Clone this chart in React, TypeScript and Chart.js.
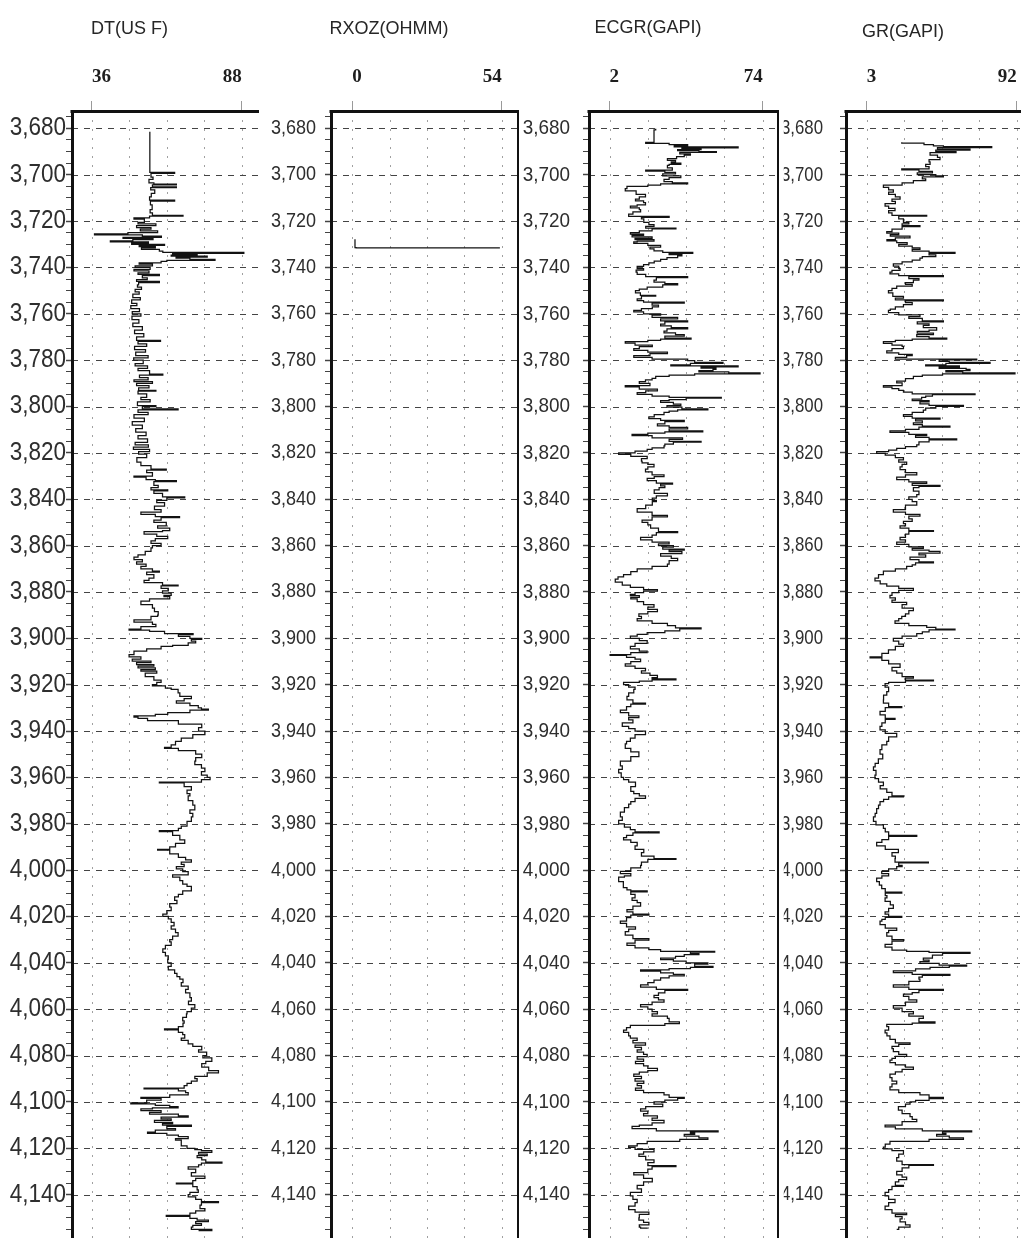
import React, { useEffect, useRef } from "react";
import { Chart, registerables } from "chart.js";

Chart.register(...registerables);

// ---------- data ----------
const DEPTH_LABELS = [3680, 3700, 3720, 3740, 3760, 3780, 3800, 3820, 3840, 3860, 3880, 3900, 3920, 3940, 3960, 3980, 4000, 4020, 4040, 4060, 4080, 4100, 4120, 4140];
const DEPTH_MINOR_STEP = 5;
const DEPTH_MIN = 3672.5;
const DEPTH_MAX = 4168.2;

const TRACK_TITLES = ["DT(US F)", "RXOZ(OHMM)", "ECGR(GAPI)", "GR(GAPI)"];
const TRACK_TICKS = [
  [36, 49, 62, 75, 88],
  [0, 13.5, 27, 40.5, 54],
  [2, 20, 38, 56, 74],
  [3, 25.25, 47.5, 69.75, 92],
];
const TRACK_RANGES = [
  [29.1, 93.96],
  [-7.66, 60.2],
  [-7.63, 81.6],
  [-9.3, 101.1],
];

// [depth, value]
const DT_LOG: number[][] = [
  [3681.5,56.1],[3698.5,56.1],[3699,64.7],[3699.4,56.5],[3701,57.2],[3702,55.8],[3703.5,57.5],[3704,65.3],[3704.4,57],[3705.2,65.3],[3705.6,56.4],[3706.5,57.8],[3708,56.6],[3709.5,56.0],[3711,64.7],[3711.4,56.3],[3713,56.9],[3715,56.2],[3716.5,57.0],[3717.5,67.6],[3717.9,56],[3718.6,50.6],[3719.2,54.2],[3720.5,52.0],[3721.2,58.2],[3722,51.5],[3722.8,56.5],[3723.5,52.8],[3724.2,58.8],[3725,48.5],[3725.5,36.9],[3725.9,53.5],[3726.5,60.1],[3727,46.8],[3727.5,57.2],[3728,50.2],[3728.5,42.4],[3729,55.6],[3729.5,49.8],[3730,61.2],[3730.5,52.4],[3731,58.0],[3731.6,53.2],[3732.2,59.4],[3733,60.6],[3733.5,88.7],[3733.9,64.0],[3734.3,72.5],[3734.7,63.5],[3735.1,76.0],[3735.5,65.2],[3736,70.0],[3736.5,78.7],[3736.9,62.0],[3737.4,60.0],[3738,52.4],[3738.6,57.0],[3739.3,51.0],[3740,56.2],[3740.8,50.6],[3741.5,55.8],[3742.3,52.0],[3743,59.4],[3743.5,53.5],[3744.5,55.2],[3745.3,51.5],[3746,59.4],[3746.5,52.2],[3747.5,51.8],[3748.5,53.2],[3749.5,51.0],[3750.5,52.4],[3751.5,50.2],[3753,52.8],[3754,49.8],[3755.5,51.6],[3756.5,49.5],[3757.8,52.5],[3759,50.0],[3760,53.0],[3761,49.9],[3762.5,52.3],[3764,50.2],[3765.5,53.5],[3767,50.8],[3768.5,54.0],[3770,51.5],[3771.5,59.8],[3771.9,52.0],[3773,55.0],[3774,50.8],[3775.5,54.6],[3776.5,51.2],[3778,55.5],[3779,50.5],[3780,53.8],[3781.5,51.0],[3782.5,55.3],[3783.5,52.0],[3784.5,56.0],[3786,60.6],[3786.4,52.5],[3787.5,55.5],[3788.5,50.6],[3789.2,57.0],[3790,51.5],[3791,55.8],[3792,52.2],[3793,58.2],[3793.4,52.0],[3794.5,55.0],[3796,53.0],[3797,56.2],[3798,51.8],[3799.6,58.2],[3800,53.5],[3801,65.9],[3801.4,52.0],[3802.5,55.5],[3803.5,50.6],[3805,54.2],[3806.5,50.0],[3808,53.5],[3809.5,51.2],[3811,54.8],[3812.5,52.0],[3814,55.3],[3815.5,51.0],[3816.5,55.6],[3817.5,50.4],[3818.5,56.0],[3819.5,52.2],[3820.5,55.0],[3822,51.6],[3824,53.0],[3825.5,56.5],[3827,61.8],[3827.4,55.0],[3828.5,57.0],[3830,50.6],[3830.5,54.8],[3831.5,58.0],[3832,65.3],[3832.4,57.5],[3834,59.0],[3835,56.5],[3836,62.3],[3836.4,57.5],[3837.5,60.5],[3839,68.2],[3839.4,62.0],[3840.5,58.5],[3841.5,61.2],[3843,57.7],[3844.5,60.0],[3845.5,53.0],[3846.5,58.0],[3847.5,66.4],[3847.9,60.0],[3849,57.5],[3850,61.8],[3851.5,58.8],[3852.5,63.0],[3853.5,60.5],[3854,54.1],[3855,58.5],[3856,62.3],[3857,58.0],[3858,56.5],[3859,60.0],[3860,57.0],[3861,56.5],[3862.5,54.5],[3864,52.0],[3865,50.6],[3866,53.5],[3867,51.5],[3868,54.8],[3869,53.0],[3870,57.0],[3871,59.4],[3871.4,55.0],[3872.5,57.5],[3874,55.8],[3875,54.1],[3876,60.5],[3877,65.9],[3877.4,60.0],[3878.5,62.5],[3879.5,60.5],[3880.5,63.5],[3881.5,61.0],[3882,63.0],[3883,56.0],[3884,53.0],[3885.5,57.0],[3887,57.7],[3888.5,59.0],[3890,58.8],[3890.5,56.5],[3892,50.6],[3893,57.0],[3894,58.2],[3895,53.0],[3896,48.9],[3896.5,56.0],[3897,61.2],[3898,71.1],[3898.4,66.0],[3899.2,70.0],[3900,74.1],[3900.5,70.5],[3901.2,72.0],[3902,69.4],[3903,64.0],[3903.5,60.0],[3904.5,55.0],[3905.5,50.6],[3907,48.9],[3908,53.0],[3909,50.0],[3909.8,56.5],[3910.5,51.5],[3911.3,57.5],[3912,52.0],[3912.8,58.0],[3913.5,53.0],[3914.2,58.5],[3915,54.5],[3916.5,57.5],[3918,60.0],[3919,58.5],[3920,57.0],[3920.5,61.5],[3921.5,63.5],[3922,65.9],[3923.5,66.5],[3925,70.5],[3926,68.0],[3927,65.3],[3928,70.0],[3929,72.9],[3930,74.0],[3930.5,76.4],[3931,70.0],[3932,62.3],[3932.8,58.0],[3933.5,50.6],[3934,52.0],[3934.5,55.3],[3935.5,66.0],[3937,74.1],[3938.5,73.0],[3940,75.2],[3941.5,71.0],[3943,67.0],[3944.5,65.0],[3946,63.5],[3947,61.2],[3947.5,66.0],[3948.5,72.0],[3950,74.1],[3951.5,72.0],[3953,71.7],[3954.5,74.0],[3956,75.2],[3957.5,74.0],[3959,76.0],[3960,77.0],[3961,74.0],[3962,59.4],[3962.4,68.0],[3964,70.5],[3965.5,69.0],[3967,70.0],[3968,69.4],[3970,71.0],[3972,71.7],[3974,70.0],[3975.5,71.0],[3977,70.5],[3979,69.0],[3981,67.0],[3982,66.0],[3983,59.4],[3983.4,64.0],[3985,66.5],[3987,68.2],[3988.5,65.0],[3990,63.0],[3991,58.8],[3991.4,63.0],[3993,66.0],[3994.5,68.5],[3995.6,70.5],[3996.5,67.0],[3997.5,68.0],[3998.5,65.3],[3999.5,67.5],[4000.7,69.4],[4002,64.0],[4003,66.5],[4004.5,67.5],[4006,69.0],[4007,70.5],[4009,67.5],[4010.5,66.0],[4011.5,64.7],[4013,65.5],[4014.5,63.0],[4016,63.5],[4017.5,62.0],[4019,60.6],[4020,62.5],[4021,63.5],[4022.5,64.5],[4024,63.5],[4025.5,65.0],[4027,65.9],[4028.5,64.0],[4030,63.0],[4031,63.5],[4032.5,61.5],[4034,60.6],[4035.5,61.5],[4037,62.5],[4038.5,62.3],[4040,63.5],[4041.5,62.5],[4043,64.7],[4044.5,65.5],[4046,66.5],[4047,67.6],[4048.5,67.0],[4050,69.4],[4051.5,68.5],[4053,70.0],[4055,70.5],[4056.5,69.5],[4058,71.7],[4059.5,70.5],[4061,69.0],[4062,68.8],[4063.5,67.5],[4065,68.0],[4066,67.6],[4067.5,66.0],[4068.5,61.2],[4068.9,66.0],[4070,67.5],[4071,68.2],[4072.5,67.0],[4073.5,69.4],[4075,71.0],[4076,74.1],[4077.5,73.0],[4078.5,75.8],[4080,74.5],[4081,77.6],[4082.5,75.5],[4083.5,74.1],[4085,76.5],[4086.5,79.9],[4087.5,76.0],[4089,71.7],[4090,72.5],[4091,70.5],[4092,69.0],[4093,68.0],[4094,54.1],[4094.4,66.0],[4095.2,68.5],[4096,69.4],[4097,63.0],[4098,53.0],[4098.5,60.0],[4099.2,55.0],[4100.4,49.5],[4100.8,58.0],[4101.5,63.0],[4102,65.9],[4102.6,57.0],[4103,53.0],[4103.8,60.0],[4104.5,56.0],[4105.3,66.0],[4106,69.4],[4106.6,60.0],[4107.3,63.5],[4108,57.7],[4108.8,64.0],[4109.4,60.5],[4110,70.5],[4110.6,62.0],[4111.5,65.0],[4112.2,58.0],[4113,55.3],[4113.6,62.0],[4114.3,66.0],[4115,69.4],[4115.8,65.0],[4116.5,67.0],[4118,67.0],[4119,69.0],[4120,71.7],[4120.6,74.0],[4121,77.6],[4121.8,73.0],[4122.5,76.0],[4123.2,72.5],[4124,74.1],[4125,75.5],[4126,81.1],[4126.4,74.0],[4127.2,73.0],[4128,69.4],[4129,72.0],[4130.5,70.5],[4132,75.2],[4133,72.0],[4134,71.0],[4135,65.3],[4135.4,71.0],[4136.5,72.5],[4138,72.9],[4139,70.0],[4140,69.4],[4141,72.0],[4142,74.0],[4143,79.9],[4143.4,74.0],[4144.5,73.5],[4146,75.2],[4147,72.0],[4148,70.0],[4149,61.8],[4149.4,70.0],[4150.2,72.5],[4151,76.4],[4151.6,72.0],[4152.5,74.0],[4153.3,71.0],[4154,70.5],[4155,77.6],[4155.5,73.0],
];

const RXOZ_LOG: number[][] = [
  [3727.8,1.0],[3731.4,1.4],[3731.6,53.3],
];

const ECGR_LOG: number[][] = [
  [3680.2,23.7],[3680.6,22.9],[3685.8,22.9],[3686,19.0],[3686.5,30.0],[3687,38.7],[3687.5,32.4],[3688,62.4],[3688.4,36.0],[3688.8,45.0],[3689.2,34.0],[3689.6,44.0],[3690,52.2],[3690.4,35.0],[3691,40.0],[3691.5,37.1],[3692.2,33.5],[3693,29.2],[3693.8,33.0],[3694.5,31.0],[3695,35.5],[3695.5,30.0],[3696,29.2],[3697,31.5],[3698,19.0],[3698.4,28.0],[3699,33.0],[3699.6,27.0],[3700.5,35.5],[3701.2,30.0],[3702,27.6],[3703,31.5],[3703.5,38.7],[3703.9,26.0],[3704.5,20.0],[3705,10.2],[3706,9.4],[3707,14.5],[3708.5,18.9],[3709.5,16.0],[3710.5,14.2],[3711.3,18.0],[3712,18.9],[3713,15.0],[3713.5,11.8],[3714.3,16.0],[3715,16.6],[3716,13.0],[3717,11.0],[3718,30.0],[3718.4,17.0],[3719,18.1],[3720.5,20.5],[3721.5,22.9],[3722.3,19.0],[3723,33.2],[3723.4,22.0],[3724.2,16.0],[3725,11.8],[3725.6,18.0],[3726.2,12.6],[3726.8,22.0],[3727.4,14.0],[3728,22.9],[3728.6,15.0],[3729,13.4],[3729.6,20.0],[3730.5,26.0],[3731.2,21.0],[3732,22.9],[3732.8,27.0],[3733.5,41.1],[3733.9,30.0],[3734.5,36.0],[3735,34.0],[3735.8,29.0],[3736.5,26.0],[3737.3,23.0],[3738,20.5],[3738.8,18.0],[3739.5,15.0],[3740.5,18.0],[3741.2,14.5],[3742,15.0],[3743,19.0],[3744,38.7],[3744.4,24.0],[3745.5,22.9],[3746.3,28.0],[3747,34.0],[3747.5,27.0],[3748.5,19.7],[3749.3,16.0],[3750,14.2],[3751,16.5],[3752,23.7],[3752.4,17.0],[3753.5,15.0],[3754.3,18.0],[3755,37.1],[3755.4,22.0],[3756.2,25.0],[3757,22.1],[3757.8,17.0],[3758.5,13.4],[3759.2,18.0],[3760,26.0],[3760.6,22.0],[3761.5,34.0],[3762.2,26.0],[3763,38.7],[3763.5,28.0],[3764.5,26.0],[3765.2,31.0],[3766,38.7],[3766.5,29.0],[3767.5,27.6],[3768.2,33.0],[3769,37.1],[3769.6,28.0],[3770.5,40.3],[3770.9,26.0],[3771.5,20.0],[3772,9.4],[3772.6,14.0],[3773.5,22.1],[3774.2,16.0],[3775,13.4],[3775.8,20.0],[3776.5,29.2],[3777.2,21.0],[3778,13.4],[3778.8,22.0],[3779.5,38.7],[3780.2,42.0],[3781,55.3],[3781.4,40.0],[3782,30.8],[3782.5,62.4],[3782.9,45.0],[3783.4,52.0],[3784,50.6],[3784.5,44.0],[3785,58.0],[3785.5,72.7],[3785.9,42.0],[3786.5,30.0],[3787,23.7],[3787.8,22.0],[3788.5,18.9],[3789.3,16.0],[3790,21.0],[3791,9.4],[3791.5,16.0],[3792.5,24.5],[3793.2,19.0],[3794,15.0],[3794.8,22.0],[3795.5,30.0],[3796,54.5],[3796.4,38.0],[3797,30.0],[3797.5,26.0],[3798.2,32.0],[3799,35.5],[3799.6,29.0],[3800.3,36.0],[3801,48.2],[3801.4,34.0],[3802,30.0],[3802.5,27.6],[3803.5,23.0],[3804.5,20.5],[3805.2,26.0],[3806,37.1],[3806.5,28.0],[3807.5,24.5],[3808.3,30.0],[3809,38.7],[3809.6,30.0],[3810.5,45.8],[3810.9,28.0],[3811.5,20.0],[3812,12.6],[3812.6,22.0],[3813.5,36.3],[3814.2,30.0],[3815,45.0],[3815.4,32.0],[3816.2,28.0],[3817,27.6],[3817.8,22.0],[3818.5,19.7],[3819.2,14.0],[3820,6.3],[3820.6,12.0],[3821.5,19.7],[3822.5,17.0],[3823.5,17.3],[3824.3,20.0],[3825,22.9],[3826,20.0],[3827,18.9],[3828.2,22.0],[3829.5,27.6],[3830.2,23.0],[3831,19.7],[3832,24.0],[3833,31.6],[3833.5,26.0],[3834.2,28.0],[3835,25.3],[3836,23.0],[3837.5,29.2],[3838.5,24.0],[3839.5,22.1],[3840.5,24.0],[3841,22.1],[3842.5,19.0],[3844,15.0],[3845.5,22.0],[3847,29.2],[3847.6,22.0],[3849,17.3],[3850,20.0],[3851,21.3],[3852.5,25.0],[3854,34.0],[3854.4,24.0],[3855.5,22.0],[3856.5,16.6],[3857.5,22.0],[3858.5,30.0],[3859.2,25.0],[3860,32.0],[3860.6,27.0],[3861.5,37.1],[3862,30.0],[3862.6,36.0],[3863.5,26.0],[3864.5,31.0],[3865.5,34.0],[3866.5,30.0],[3868,29.2],[3869,22.0],[3870,15.0],[3871.2,12.0],[3872.5,8.6],[3873.5,6.0],[3874.5,4.7],[3875.8,8.0],[3877,11.8],[3878,18.0],[3879,24.5],[3879.6,18.0],[3880.3,14.0],[3881,11.8],[3881.6,16.0],[3882.3,12.0],[3883,15.0],[3884.2,18.0],[3885.5,22.9],[3886.5,20.0],[3887.5,24.5],[3888.5,20.0],[3889.5,15.8],[3890.5,17.0],[3891.5,15.0],[3892.5,22.0],[3893.5,29.2],[3894.5,33.0],[3895.5,45.0],[3895.9,35.0],[3896.8,28.0],[3897.5,19.7],[3898.3,15.0],[3899,11.8],[3900,16.0],[3901,19.7],[3902.2,14.0],[3903.5,11.8],[3904.5,16.0],[3905.5,19.7],[3906.2,12.0],[3907,2.3],[3907.4,10.0],[3908.2,14.0],[3909,16.6],[3910,12.0],[3911,9.4],[3912,14.0],[3913,18.9],[3914,17.0],[3915,21.0],[3916,24.5],[3917,22.0],[3917.5,33.2],[3917.9,22.0],[3918.5,16.0],[3919,8.6],[3920,11.0],[3921,14.0],[3922,13.4],[3923.5,11.0],[3925,10.2],[3926.5,13.0],[3928,18.9],[3928.4,12.0],[3929.5,10.0],[3931,7.1],[3932,11.0],[3933.5,15.8],[3934.2,11.0],[3935.2,13.0],[3936.5,8.0],[3938,11.0],[3939,14.0],[3940,18.9],[3941.5,14.0],[3943,11.8],[3944.5,10.0],[3945.5,9.4],[3947.5,12.0],[3949,15.8],[3951,12.0],[3953,7.1],[3955,8.0],[3956.5,6.3],[3958,7.5],[3960,8.6],[3961,11.0],[3962,14.2],[3964,12.0],[3966,13.4],[3967,16.0],[3968,18.9],[3969,14.0],[3970.5,12.0],[3971.5,11.0],[3973,9.0],[3975,7.1],[3977,8.0],[3978.5,6.3],[3980,9.0],[3981.5,11.8],[3982.5,14.0],[3983.5,25.3],[3983.9,13.0],[3985,10.0],[3986,8.6],[3987,12.0],[3988,15.0],[3989.5,14.0],[3991,18.1],[3992.5,17.0],[3994,22.9],[3995,33.2],[3995.4,20.0],[3996.5,17.0],[3998,16.6],[3999,12.0],[4000.5,7.1],[4001.5,12.0],[4002.5,9.0],[4003,6.3],[4005,8.5],[4007.5,10.2],[4008.5,12.0],[4009,19.7],[4009.4,12.0],[4010.5,14.0],[4012,12.6],[4013,15.0],[4014,16.6],[4015.5,13.0],[4017,10.2],[4018,13.0],[4019,20.5],[4019.4,12.0],[4020.5,10.0],[4022,7.1],[4023,10.0],[4024.5,14.2],[4025.5,11.0],[4026.5,9.4],[4028,13.0],[4029.5,20.5],[4030.2,14.0],[4031.5,10.2],[4032.5,14.0],[4033.5,20.5],[4034.3,26.0],[4035,51.4],[4035.4,40.0],[4036,44.0],[4036.5,37.1],[4037.2,33.0],[4038,26.0],[4038.6,32.0],[4039.3,38.0],[4040,48.2],[4040.6,42.0],[4041.5,50.6],[4042,40.0],[4042.5,30.0],[4043,16.6],[4043.6,26.0],[4044.3,32.0],[4045,37.1],[4045.6,30.0],[4046.5,26.0],[4047.5,22.9],[4048.5,20.0],[4049.5,16.6],[4050.5,24.0],[4051.5,38.7],[4051.9,28.0],[4053,25.0],[4054,22.9],[4055,25.0],[4056,27.6],[4057,22.0],[4058,16.6],[4059,20.0],[4060,22.0],[4061,24.5],[4062,22.0],[4063,29.2],[4064,30.0],[4065.5,34.8],[4066.2,28.0],[4067,11.8],[4068,10.0],[4069,8.6],[4070,11.0],[4071.5,11.8],[4072.5,15.0],[4073.5,13.0],[4074.5,18.9],[4075.5,14.0],[4076.5,17.0],[4077.5,15.0],[4078.5,18.0],[4079.5,19.7],[4080.5,15.0],[4081.5,18.0],[4082.5,14.2],[4083.5,18.0],[4084.5,20.0],[4085.5,24.5],[4086.5,20.0],[4087.2,16.0],[4088,13.4],[4089,17.0],[4090,14.0],[4091,18.1],[4092,15.0],[4093,17.0],[4094,14.2],[4095,18.0],[4096,27.6],[4097,30.0],[4098,37.1],[4098.5,34.0],[4099.2,28.0],[4100,22.9],[4101,27.0],[4102,19.0],[4103,16.6],[4104,20.0],[4105,18.0],[4106,24.5],[4107,22.0],[4108,27.6],[4109,22.0],[4110,16.0],[4110.5,12.6],[4111.5,24.0],[4112.5,53.0],[4112.9,40.0],[4113.5,42.0],[4114,37.1],[4114.8,44.0],[4115.5,48.2],[4116.2,35.0],[4117,19.7],[4118,15.0],[4119,11.0],[4119.6,14.0],[4120.5,22.9],[4121.5,18.0],[4122.5,15.8],[4123.5,19.0],[4125,22.9],[4126.2,20.0],[4127.5,33.2],[4127.9,22.0],[4129,20.0],[4130.5,13.4],[4131.5,18.0],[4133,22.1],[4134.5,18.0],[4136,15.0],[4137.5,17.0],[4139,11.8],[4140.5,13.0],[4142,15.0],[4143.5,14.0],[4145,11.0],[4146.5,14.0],[4147.5,20.5],[4148.5,16.0],[4150,15.8],[4151,18.0],[4152,20.5],[4153,16.0],[4154,16.6],[4154.5,20.0],
];

const GR_LOG: number[][] = [
  [3686,23.8],[3686.4,37.0],[3687,42.6],[3687.5,48.5],[3687.9,77.2],[3688.3,45.0],[3689,64.3],[3689.4,44.0],[3690,56.0],[3690.5,40.6],[3691.5,45.0],[3692.5,46.5],[3693.5,40.0],[3694.5,40.6],[3695.5,38.0],[3696.5,40.0],[3697.5,23.8],[3697.9,34.0],[3698.5,42.0],[3699.2,33.0],[3700,44.0],[3700.5,48.5],[3700.9,36.0],[3701.8,38.0],[3702.5,30.7],[3703.5,24.0],[3704.5,12.9],[3705.5,16.0],[3706.5,18.8],[3707.5,16.0],[3708.5,20.0],[3709.5,22.8],[3710.5,18.0],[3711.5,20.0],[3712.5,13.9],[3713.5,16.0],[3714.5,19.8],[3715.5,16.0],[3716.5,18.0],[3717.5,38.6],[3717.9,22.0],[3719,24.8],[3720.5,28.0],[3721.2,24.0],[3722,34.6],[3722.4,24.0],[3723.5,18.0],[3724.5,14.9],[3725.2,22.0],[3725.8,17.0],[3726.5,28.7],[3727.2,20.0],[3728,15.0],[3728.5,20.8],[3729.3,27.0],[3730,22.0],[3730.8,30.0],[3731.5,34.6],[3732.2,30.0],[3733,40.0],[3733.5,55.4],[3733.9,40.0],[3734.6,44.0],[3735.3,36.0],[3736,34.6],[3736.8,30.0],[3737.6,24.0],[3738.5,18.8],[3739.4,22.0],[3740.5,22.8],[3741.3,18.0],[3742,16.8],[3742.8,22.0],[3743.5,48.5],[3743.9,28.0],[3744.8,34.0],[3745.5,30.7],[3746.5,26.0],[3747.3,30.0],[3748,20.8],[3749,18.0],[3750,15.9],[3751,18.5],[3752.5,24.8],[3753.2,20.0],[3754,48.5],[3754.4,26.0],[3755.2,30.0],[3756,24.8],[3757,20.0],[3758,17.0],[3758.5,15.9],[3759.5,22.0],[3760.5,34.6],[3761.2,28.0],[3762,36.0],[3763,48.5],[3763.5,33.0],[3764.3,40.0],[3765,36.6],[3766,44.5],[3767,40.0],[3767.6,33.0],[3768.3,42.6],[3769,32.7],[3769.8,40.0],[3770.5,50.5],[3770.9,30.0],[3771.5,20.0],[3772,12.9],[3772.8,18.0],[3773.5,24.0],[3774,24.8],[3775,18.0],[3776,14.9],[3776.8,22.0],[3777.5,30.0],[3778,26.7],[3778.8,20.0],[3779.5,68.3],[3779.9,46.0],[3780.5,52.0],[3781,76.2],[3781.4,50.0],[3782,38.0],[3782.5,58.0],[3783,46.0],[3783.5,62.0],[3784,64.3],[3784.5,50.0],[3785,60.0],[3785.5,91.0],[3785.9,48.0],[3786.5,36.0],[3787,30.7],[3788,26.0],[3789,20.8],[3789.8,24.0],[3791,12.9],[3791.6,18.0],[3792.3,22.0],[3793,24.8],[3793.8,30.0],[3794.5,67.3],[3794.9,42.0],[3795.5,38.0],[3796,35.6],[3796.8,30.0],[3797.5,40.0],[3798,34.6],[3798.8,40.0],[3799.5,60.4],[3799.9,44.0],[3800.7,38.0],[3801.5,36.6],[3802.5,30.0],[3803.5,24.8],[3804.2,30.0],[3805,46.5],[3805.4,32.0],[3806.2,36.0],[3807,30.7],[3807.8,36.0],[3808.5,52.4],[3808.9,34.0],[3809.8,26.0],[3810.5,16.8],[3811.2,28.0],[3812,38.6],[3812.6,32.0],[3813.3,40.0],[3814,56.4],[3814.4,40.0],[3815.2,34.0],[3816.5,32.7],[3817.3,26.0],[3818,20.8],[3818.8,16.0],[3819.5,8.9],[3820.2,14.0],[3821,20.0],[3822,24.8],[3823,22.0],[3824,26.7],[3825,24.0],[3826,22.8],[3827.2,26.0],[3828.5,32.7],[3829.5,26.0],[3830.5,20.8],[3831.5,28.0],[3832.5,38.6],[3833.2,30.0],[3834,46.5],[3834.4,34.0],[3835,30.7],[3836.5,34.0],[3838,32.7],[3839,28.0],[3840,30.0],[3841,32.7],[3842.5,26.0],[3844.5,18.8],[3845.5,26.0],[3846.5,34.6],[3847.3,28.0],[3848.5,30.0],[3849.5,24.8],[3850.5,26.0],[3851.5,22.8],[3852.5,28.0],[3853.5,42.6],[3853.9,28.0],[3855,26.0],[3856.5,22.8],[3857.5,26.0],[3858.5,20.8],[3859.5,28.0],[3860.5,36.6],[3861.2,30.0],[3862,40.0],[3862.5,46.5],[3863.2,34.0],[3864,38.0],[3865,28.7],[3866,34.0],[3867,42.6],[3867.5,32.0],[3868.3,30.0],[3869,26.7],[3870,20.0],[3871,12.9],[3872.5,10.0],[3874,7.9],[3875.2,11.0],[3876.5,14.9],[3877.5,22.0],[3878.5,30.7],[3879.3,22.0],[3880.3,18.0],[3881.5,16.8],[3882.5,20.0],[3883.5,18.0],[3884.5,26.7],[3885.5,24.0],[3887,30.7],[3888,28.0],[3889.5,26.0],[3890.5,23.8],[3891.5,22.0],[3892.5,19.8],[3893.5,28.0],[3894.5,38.6],[3895.3,44.0],[3896,55.4],[3896.4,40.0],[3897.2,36.0],[3898,32.7],[3899,24.0],[3900,18.8],[3901.2,22.0],[3902.5,24.8],[3903.5,20.0],[3905,15.9],[3906.5,12.0],[3908,5.0],[3908.4,12.0],[3909.5,16.0],[3911,22.8],[3912.5,18.0],[3914,20.8],[3915,24.0],[3916.5,30.7],[3917.2,26.0],[3918,42.6],[3918.4,26.0],[3919,16.0],[3919.5,13.9],[3921,16.0],[3923,14.9],[3924.5,13.0],[3926.5,12.9],[3928,16.0],[3929.5,23.8],[3929.9,14.0],[3931.5,10.9],[3933,14.0],[3934.5,19.8],[3935,14.0],[3936.5,12.0],[3938,10.9],[3939.5,14.0],[3941,20.8],[3942.5,16.0],[3944.5,14.9],[3946,12.0],[3948,10.9],[3950,12.5],[3952,9.9],[3954,8.0],[3955.5,7.0],[3957,8.5],[3959,7.9],[3960.5,10.0],[3962,12.9],[3963.5,11.0],[3965,14.9],[3966.5,18.0],[3968,24.8],[3968.4,16.0],[3969.5,13.0],[3970.5,10.9],[3972,10.0],[3973.5,8.9],[3975.5,8.0],[3977,7.0],[3979,8.5],[3980.5,12.9],[3982,14.0],[3983.5,16.0],[3985,32.7],[3985.4,16.0],[3986.8,12.0],[3988,8.9],[3989.5,14.0],[3991,21.8],[3992.5,18.0],[3994,20.0],[3995,19.8],[3996.5,39.6],[3996.9,22.0],[3998,24.0],[3998.5,20.8],[3999.5,16.0],[4000.5,11.9],[4001.5,16.0],[4002.5,12.0],[4003.5,8.9],[4005,10.5],[4006.5,11.9],[4008,14.0],[4009.5,23.8],[4009.9,14.0],[4011,15.0],[4012,13.9],[4013.5,17.0],[4015,18.8],[4016.5,16.0],[4018,13.9],[4019,16.0],[4020,23.8],[4020.4,14.0],[4021.2,12.0],[4022,10.9],[4023.5,14.0],[4025,20.8],[4026,16.0],[4027,14.9],[4028.5,18.0],[4030,24.8],[4030.6,18.0],[4032,13.9],[4033.2,18.0],[4034.5,26.7],[4035,40.0],[4035.5,64.3],[4035.9,48.0],[4036.7,42.0],[4038,36.6],[4038.8,40.0],[4039.5,34.6],[4040.2,46.0],[4041,62.3],[4041.4,52.0],[4042,40.6],[4042.6,32.0],[4043.5,18.8],[4044.2,30.0],[4045,52.4],[4045.4,36.0],[4046.2,34.0],[4047,34.6],[4048,28.0],[4049.5,18.8],[4050.5,28.0],[4051.5,48.5],[4051.9,34.0],[4052.8,30.0],[4053.5,24.8],[4054.5,28.0],[4056,32.7],[4057,26.0],[4058.5,18.8],[4059.5,24.0],[4061,30.7],[4062,28.0],[4063,36.6],[4064,34.0],[4065.5,43.5],[4066,30.0],[4066.5,14.9],[4067.5,16.0],[4069,13.9],[4070.2,15.0],[4071.5,16.8],[4073,20.0],[4074.5,28.7],[4075.2,22.0],[4076,18.0],[4077,18.8],[4078.3,22.0],[4079.5,26.7],[4080.3,20.0],[4081.2,18.0],[4082,16.8],[4083,20.0],[4084,26.0],[4085,30.7],[4086,24.0],[4087,20.0],[4088,16.8],[4089.5,18.0],[4091,20.8],[4092.2,18.0],[4093.5,16.8],[4094.8,22.0],[4096,34.6],[4097,40.0],[4098,48.5],[4098.6,40.0],[4099.3,32.0],[4100,28.7],[4101,26.0],[4102,21.8],[4103.5,24.0],[4105,28.7],[4106.3,30.0],[4107.5,32.7],[4108.5,24.0],[4110,13.9],[4110.8,20.0],[4111.6,36.0],[4112.5,65.3],[4112.9,48.0],[4113.6,50.0],[4114,44.5],[4114.8,52.0],[4115.5,60.4],[4116.2,40.0],[4117,16.8],[4118.2,14.0],[4119.5,12.9],[4120.3,18.0],[4121,24.8],[4122.5,22.0],[4124,20.8],[4125.5,24.0],[4127,42.6],[4127.4,28.0],[4128.5,24.0],[4130,20.8],[4131.5,24.0],[4132.5,26.7],[4133.5,22.0],[4134.5,20.0],[4136,24.8],[4136.4,18.0],[4137.8,16.0],[4139,13.9],[4140.5,16.0],[4142,19.8],[4143.5,16.0],[4145,13.9],[4146.5,18.0],[4148,26.7],[4148.6,20.0],[4149.5,24.0],[4150.5,22.8],[4151.8,26.0],[4153,28.7],[4154,22.0],[4155,20.8],
];

const TRACK_DATA = [DT_LOG, RXOZ_LOG, ECGR_LOG, GR_LOG];

// ---------- layout / style ----------
const SANS = '"Liberation Sans", Arial, sans-serif';
const SERIF = '"Liberation Serif", "Times New Roman", serif';
const PLOT_TOP = 111;
const CANVAS_H = 1260;
const Y_AXIS_W = 72;
const Y_TICK_LEN = 6;

const PANELS = [
  { left: 0, width: 259, labelSize: 25, labelSquash: 0.9, labelPad: 0, titlePad: 18, rightBorder: false },
  { left: 259, width: 260, labelSize: 20, labelSquash: 0.9, labelPad: 9, titlePad: 18, rightBorder: true },
  { left: 517, width: 262, labelSize: 21, labelSquash: 0.9, labelPad: 13, titlePad: 17, rightBorder: true },
  { left: 774, width: 258, labelSize: 21, labelSquash: 0.8, labelPad: 17, titlePad: 21, rightBorder: true },
];

function buildDepthTicks() {
  const out: { value: number }[] = [];
  for (let d = DEPTH_LABELS[0] - DEPTH_MINOR_STEP; d <= DEPTH_MAX; d += DEPTH_MINOR_STEP) {
    if (d >= DEPTH_MIN) out.push({ value: d });
  }
  return out;
}

const gridPlugin = {
  id: "logGrid",
  beforeDatasetsDraw(chart: any) {
    const { ctx, chartArea, scales } = chart;
    const { left, right, top, bottom } = chartArea;
    ctx.save();
    ctx.lineWidth = 1;
    ctx.strokeStyle = "#a0a0a0";
    ctx.setLineDash([2, 7]);
    ctx.beginPath();
    for (const t of scales.x.ticks) {
      const px = Math.round(scales.x.getPixelForValue(t.value)) + 0.5;
      ctx.moveTo(px, top);
      ctx.lineTo(px, bottom);
    }
    ctx.stroke();
    ctx.strokeStyle = "#444";
    ctx.setLineDash([6, 6]);
    ctx.beginPath();
    for (const d of DEPTH_LABELS) {
      const py = Math.round(scales.y.getPixelForValue(d)) + 0.5;
      if (py < top || py > bottom) continue;
      ctx.moveTo(left, py);
      ctx.lineTo(right, py);
    }
    ctx.stroke();
    ctx.restore();
  },
};

const framePlugin = {
  id: "logFrame",
  afterDatasetsDraw(chart: any, _args: any, opts: any) {
    const { ctx, chartArea } = chart;
    const { left, right, top, bottom } = chartArea;
    ctx.save();
    ctx.strokeStyle = "#111";
    ctx.setLineDash([]);
    ctx.lineWidth = 3;
    ctx.beginPath();
    ctx.moveTo(left - 1.5, top + 0.5);
    ctx.lineTo(right, top + 0.5);
    ctx.stroke();
    ctx.beginPath();
    ctx.moveTo(left + 0.5, top);
    ctx.lineTo(left + 0.5, bottom);
    ctx.stroke();
    if (opts && opts.right) {
      ctx.lineWidth = 2;
      ctx.beginPath();
      ctx.moveTo(right - 1, top);
      ctx.lineTo(right - 1, bottom);
      ctx.stroke();
    }
    ctx.restore();
  },
};

// narrow the depth labels horizontally (condensed print look), anchored at their right edge
function squashYLabels(scale: any, k: number, pad: number) {
  if (scale.__squashed) return;
  scale.__squashed = true;
  const orig = scale.drawLabels;
  scale.drawLabels = function (area: any) {
    const ctx = this.ctx;
    const anchor = this.right - Y_TICK_LEN - pad;
    ctx.save();
    ctx.translate(anchor * (1 - k), 0);
    ctx.scale(k, 1);
    orig.call(this, area);
    ctx.restore();
  };
}

// first range label starts at its tick, last range label ends at its tick
function alignEndLabels(scale: any) {
  if (scale.__aligned || typeof scale._computeLabelItems !== "function") return;
  scale.__aligned = true;
  const orig = scale._computeLabelItems;
  scale._computeLabelItems = function (area: any) {
    const items = orig.call(this, area);
    const filled = items.filter((it: any) => it && it.label !== "" && it.label != null);
    if (filled.length >= 2) {
      if (filled[0].options) filled[0].options.textAlign = "left";
      const last = filled[filled.length - 1];
      if (last.options) last.options.textAlign = "right";
    }
    return items;
  };
}

function Track({ index }: { index: number }) {
  const ref = useRef<HTMLCanvasElement | null>(null);
  const cfg = PANELS[index];
  useEffect(() => {
    const canvas = ref.current;
    if (!canvas) return;
    const ticks = TRACK_TICKS[index];
    const range = TRACK_RANGES[index];
    const titleSize = 18;
    const titleH = cfg.titlePad + titleSize * 1.2;
    const points = TRACK_DATA[index]
      .slice()
      .sort((a, b) => a[0] - b[0])
      .map(([d, v]) => ({ x: v, y: d }));
    const chart = new Chart(canvas, {
      type: "scatter",
      data: {
        datasets: [
          {
            data: points,
            showLine: true,
            stepped: "after",
            borderColor: "#121212",
            borderWidth: 1.25,
            pointRadius: 0,
            pointHoverRadius: 0,
            fill: false,
          } as any,
        ],
      },
      options: {
        responsive: false,
        animation: false,
        events: [],
        layout: { padding: 0 },
        plugins: {
          legend: { display: false },
          tooltip: { enabled: false },
          title: {
            display: true,
            text: TRACK_TITLES[index],
            color: "#262626",
            font: { family: SANS, size: titleSize, weight: "normal", lineHeight: 1.2 },
            padding: { top: cfg.titlePad, bottom: 0 },
          },
          logFrame: { right: cfg.rightBorder },
        } as any,
        scales: {
          x: {
            type: "linear",
            position: "top",
            min: range[0],
            max: range[1],
            afterBuildTicks: (s: any) => {
              s.ticks = ticks.map((v) => ({ value: v }));
            },
            afterFit: (s: any) => {
              s.height = PLOT_TOP - titleH;
              s.paddingLeft = 0;
              s.paddingRight = 0;
              alignEndLabels(s);
            },
            ticks: {
              autoSkip: false,
              maxRotation: 0,
              minRotation: 0,
              padding: 13,
              color: "#1e1e1e",
              font: { family: SERIF, size: 19, weight: "bold" },
              callback: (v: any, i: number) => (i === 0 || i === ticks.length - 1 ? String(v) : ""),
            },
            grid: {
              drawOnChartArea: false,
              drawTicks: true,
              tickLength: 10,
              tickColor: (c: any) => (c.index === 0 || c.index === ticks.length - 1 ? "#9a9a9a" : "rgba(0,0,0,0)"),
              tickWidth: 1,
            },
            border: { display: false },
          },
          y: {
            type: "linear",
            position: "left",
            reverse: true,
            min: DEPTH_MIN,
            max: DEPTH_MAX,
            afterBuildTicks: (s: any) => {
              s.ticks = buildDepthTicks();
            },
            afterFit: (s: any) => {
              s.width = Y_AXIS_W;
              s.paddingTop = 0;
              s.paddingBottom = 0;
              squashYLabels(s, cfg.labelSquash, cfg.labelPad);
            },
            ticks: {
              autoSkip: false,
              padding: cfg.labelPad,
              color: "#2e2e2e",
              font: { family: SANS, size: cfg.labelSize },
              callback: (v: any) => (DEPTH_LABELS.includes(Number(v)) ? Number(v).toLocaleString("en-US") : ""),
            },
            grid: {
              drawOnChartArea: false,
              drawTicks: true,
              tickLength: Y_TICK_LEN,
              tickColor: "#444",
              tickWidth: (c: any) => (c.tick && DEPTH_LABELS.includes(c.tick.value) ? 1.5 : 1),
            },
            border: { display: false },
          },
        },
      } as any,
      plugins: [gridPlugin, framePlugin],
    });
    return () => chart.destroy();
  }, []);
  return (
    <canvas
      ref={ref}
      width={cfg.width}
      height={CANVAS_H}
      style={{ position: "absolute", left: cfg.left, top: 0, width: cfg.width, height: CANVAS_H }}
    />
  );
}

export default function App() {
  return (
    <div
      style={{
        position: "fixed",
        left: 0,
        top: 0,
        width: 1021,
        height: 1238,
        overflow: "hidden",
        background: "#fff",
      }}
    >
      {[0, 1, 2, 3].map((i) => (
        <Track key={i} index={i} />
      ))}
    </div>
  );
}
